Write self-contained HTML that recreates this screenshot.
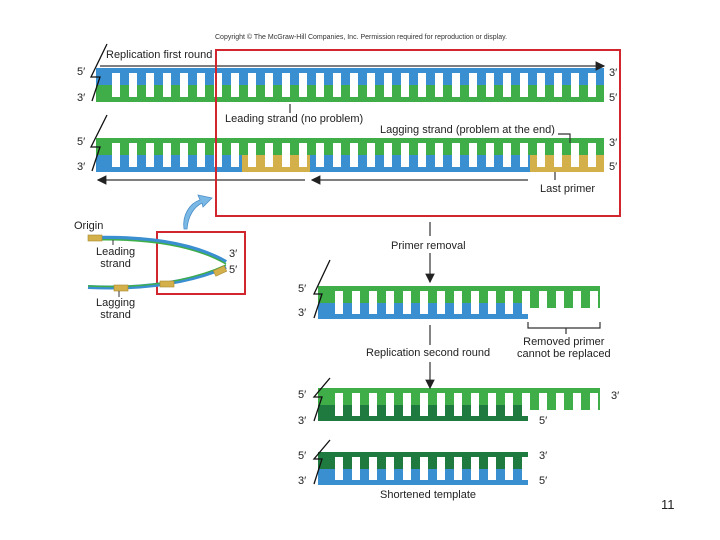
<!DOCTYPE html>
<html><head><meta charset="utf-8"><style>
body{margin:0;width:720px;height:540px;background:#fff;position:relative;overflow:hidden;font-family:"Liberation Sans",sans-serif;}
.a{position:absolute}
.g{position:absolute;background:repeating-linear-gradient(90deg,transparent 0 9px,#fff 9px 17px)}
.t{position:absolute;font-size:11px;color:#222;white-space:nowrap}
</style></head><body>
<!-- Row1 -->
<div class="a" style="left:96px;top:68px;width:508px;height:17px;background:#3a8fd0"></div>
<div class="a" style="left:96px;top:85px;width:508px;height:17px;background:#3fae49"></div>
<div class="g" style="left:103px;top:73px;width:499px;height:24px"></div>
<!-- Row2 -->
<div class="a" style="left:96px;top:138px;width:508px;height:17px;background:#3fae49"></div>
<div class="a" style="left:96px;top:155px;width:508px;height:17px;background:#3a8fd0"></div>
<div class="a" style="left:242px;top:155px;width:68px;height:17px;background:#d4b04a"></div>
<div class="a" style="left:530px;top:155px;width:74px;height:17px;background:#d4b04a"></div>
<div class="g" style="left:103px;top:143px;width:499px;height:24px"></div>
<!-- Row3 -->
<div class="a" style="left:318px;top:286px;width:282px;height:17px;background:#3fae49"></div>
<div class="a" style="left:528px;top:303px;width:72px;height:5px;background:#3fae49"></div>
<div class="a" style="left:318px;top:303px;width:210px;height:16px;background:#3a8fd0"></div>
<div class="g" style="left:326px;top:291px;width:274px;height:23px"></div>
<!-- Row4 -->
<div class="a" style="left:318px;top:388px;width:282px;height:17px;background:#3fae49"></div>
<div class="a" style="left:528px;top:405px;width:72px;height:5px;background:#3fae49"></div>
<div class="a" style="left:318px;top:405px;width:210px;height:16px;background:#1f7a40"></div>
<div class="g" style="left:326px;top:393px;width:274px;height:23px"></div>
<!-- Row5 -->
<div class="a" style="left:318px;top:452px;width:210px;height:17px;background:#1f7a40"></div>
<div class="a" style="left:318px;top:469px;width:210px;height:16px;background:#3a8fd0"></div>
<div class="g" style="left:326px;top:457px;width:202px;height:23px"></div>

<svg class="a" style="left:0;top:0" width="720" height="540">
<defs><marker id="ar" markerWidth="8" markerHeight="8" refX="7" refY="4" orient="auto"><path d="M0,0 L8,4 L0,8 z" fill="#222"/></marker></defs>
<g stroke="#111" stroke-width="1.3" fill="none">
<path d="M107,44 L91,77 L100,77 L92,101"/>
<path d="M107,115 L91,147 L100,147 L92,171"/>
<path d="M330,260 L314,294 L322,294 L314,318"/>
<path d="M330,378 L314,397 L322,397 L314,421"/>
<path d="M330,440 L314,459 L322,459 L314,484"/>
</g>
<g stroke="#333" stroke-width="1.2" fill="none">
<line x1="100" y1="66" x2="604" y2="66" marker-end="url(#ar)"/>
<line x1="305" y1="180" x2="98" y2="180" marker-end="url(#ar)"/>
<line x1="528" y1="180" x2="312" y2="180" marker-end="url(#ar)"/>
<line x1="290" y1="104" x2="290" y2="113"/>
<path d="M558,134 L570,134 L570,143"/>
<line x1="555" y1="172" x2="555" y2="180"/>
<line x1="430" y1="222" x2="430" y2="236"/>
<line x1="430" y1="253" x2="430" y2="282" marker-end="url(#ar)"/>
<path d="M528,322 L528,328 L600,328 L600,322 M566,328 L566,334"/>
<line x1="430" y1="325" x2="430" y2="345"/>
<line x1="430" y1="362" x2="430" y2="388" marker-end="url(#ar)"/>
</g>
<rect x="216" y="50" width="404" height="166" fill="none" stroke="#d2262f" stroke-width="2"/>
<rect x="157" y="232" width="88" height="62" fill="none" stroke="#d2262f" stroke-width="2"/>
<path d="M184,229 C182,215 190,203 200,200 L198,195 L212,198 L203,207 L202,203 C194,207 188,216 187,229 Z" fill="#7ab8e6" stroke="#4b8ec7" stroke-width="0.8"/>
<g fill="none" stroke-width="4">
<path d="M88,238 C150,236 195,244 226,262" stroke="#3a8fd0"/>
<path d="M88,240 C150,238 195,246 226,264" stroke="#3fae49" stroke-width="1.5"/>
<path d="M88,287 C150,290 195,280 226,267" stroke="#3a8fd0"/>
<path d="M88,286 C150,289 195,279 226,265" stroke="#3fae49" stroke-width="1.5"/>
</g>
<g fill="#d4b04a" stroke="#a88a30" stroke-width="0.6">
<rect x="88" y="235" width="14" height="6"/>
<rect x="114" y="285" width="14" height="6"/>
<rect x="160" y="281" width="14" height="6"/>
<rect x="214" y="268" width="12" height="6" transform="rotate(-25 220 271)"/>
</g>
<g stroke="#333" stroke-width="1"><line x1="113" y1="240" x2="113" y2="245"/><line x1="119" y1="291" x2="119" y2="297"/></g>
</svg>

<div class="t" style="left:215px;top:34px;font-size:7px;color:#333">Copyright © The McGraw-Hill Companies, Inc. Permission required for reproduction or display.</div>
<div class="t" style="left:106px;top:49px">Replication first round</div>
<div class="t" style="left:77px;top:66px">5′</div><div class="t" style="left:77px;top:92px">3′</div>
<div class="t" style="left:609px;top:67px">3′</div><div class="t" style="left:609px;top:92px">5′</div>
<div class="t" style="left:225px;top:113px">Leading strand (no problem)</div>
<div class="t" style="left:380px;top:124px">Lagging strand (problem at the end)</div>
<div class="t" style="left:77px;top:136px">5′</div><div class="t" style="left:77px;top:161px">3′</div>
<div class="t" style="left:609px;top:137px">3′</div><div class="t" style="left:609px;top:161px">5′</div>
<div class="t" style="left:540px;top:183px">Last primer</div>
<div class="t" style="left:74px;top:220px">Origin</div>
<div class="t" style="left:96px;top:246px;text-align:center;line-height:12px">Leading<br>strand</div>
<div class="t" style="left:96px;top:297px;text-align:center;line-height:12px">Lagging<br>strand</div>
<div class="t" style="left:229px;top:248px">3′</div><div class="t" style="left:229px;top:264px">5′</div>
<div class="t" style="left:391px;top:240px">Primer removal</div>
<div class="t" style="left:298px;top:283px">5′</div><div class="t" style="left:298px;top:307px">3′</div>
<div class="t" style="left:517px;top:336px;text-align:center;line-height:12px">Removed primer<br>cannot be replaced</div>
<div class="t" style="left:366px;top:347px">Replication second round</div>
<div class="t" style="left:298px;top:389px">5′</div><div class="t" style="left:298px;top:415px">3′</div>
<div class="t" style="left:611px;top:390px">3′</div><div class="t" style="left:539px;top:415px">5′</div>
<div class="t" style="left:298px;top:450px">5′</div><div class="t" style="left:298px;top:475px">3′</div>
<div class="t" style="left:539px;top:450px">3′</div><div class="t" style="left:539px;top:475px">5′</div>
<div class="t" style="left:380px;top:489px">Shortened template</div>
<div class="t" style="left:661px;top:497px;font-size:13px">11</div>
</body></html>
